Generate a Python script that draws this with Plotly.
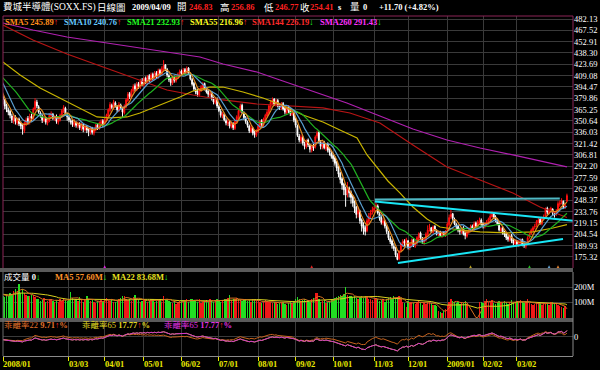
import plotly.graph_objects as go
import pandas as pd

# ---------------- data ----------------
# 20 closes before the first session (used only to seed the short averages)
prior_closes = [418, 420, 416, 422, 419, 415, 410, 412, 408, 404, 410, 414, 416, 412, 418, 420, 415, 412, 410, 408]

closes = [
    # 2008/01
    398, 392, 378, 382, 378, 370, 366, 362, 358, 352, 355, 350, 352, 347, 344, 340, 348, 352, 350, 356, 354,
    # 02
    366, 376, 370, 362, 358, 352, 355, 349, 352, 358, 360, 354, 356, 350, 353, 358, 364, 368, 360, 356,
    # 03
    352, 349, 346, 350, 345, 348, 342, 345, 340, 344, 339, 337, 342, 336, 340, 345, 342, 348, 350, 346,
    # 04
    352, 358, 365, 372, 368, 375, 370, 365, 372, 368, 362, 370, 378, 385, 382, 390, 395, 392, 398, 395, 402, 398,
    # 05
    405, 400, 408, 404, 410, 406, 412, 408, 415, 412, 418, 422, 418, 410, 404, 400, 406, 403, 408, 410, 414,
    # 06
    412, 416, 413, 418, 412, 405, 398, 392, 388, 385, 390, 394, 398, 392, 388, 385, 386, 380, 375, 378, 370,
    # 07
    364, 358, 360, 352, 348, 350, 344, 348, 342, 350, 356, 364, 370, 362, 355, 350, 345, 338, 342, 335, 333, 338,
    # 08
    344, 350, 346, 353, 358, 362, 370, 375, 378, 372, 376, 370, 368, 372, 366, 362, 368, 364, 360, 362, 352,
    # 09
    345, 332, 326, 330, 322, 318, 325, 320, 314, 318, 316, 330, 335, 324, 318, 322, 316, 320, 313, 310, 305,
    # 10
    302, 296, 290, 282, 275, 268, 262, 255, 265, 258, 252, 245, 238, 230, 235, 222, 215, 212, 208, 222, 228, 232, 236,
    # 11
    238, 242, 232, 225, 220, 222, 215, 208, 200, 195, 190, 186, 178, 172, 182, 192, 195, 193, 198,
    # 12
    188, 192, 197, 190, 194, 200, 205, 200, 195, 198, 205, 210, 212, 208, 214, 210, 205, 207, 203, 206, 204, 208,
    # 2009/01
    218, 226, 230, 225, 218, 214, 210, 208, 212, 205, 203, 208, 210, 214, 212, 218, 215, 220, 222, 217,
    # 02
    215, 218, 220, 224, 228, 230, 226, 222, 218, 210, 212, 206, 204, 200, 198, 202, 196, 193, 196,
    # 03
    192, 194, 197, 191, 190, 192, 200, 204, 210, 213, 215, 221, 223, 219, 225, 227, 237, 233, 235, 238, 232, 230,
    # 04
    234, 244, 245, 248, 239, 242.71, 254.41,
]

opens = [
    410, 397, 390, 376, 383, 377, 371, 365, 363, 357, 350, 356, 348, 353, 348, 345, 338, 347, 354, 349, 357,
    353, 366, 375, 369, 361, 357, 351, 354, 348, 351, 357, 359, 353, 357, 349, 352, 357, 363, 367, 359,
    355, 351, 350, 345, 349, 344, 347, 341, 346, 339, 343, 340, 336, 341, 335, 339, 346, 341, 347, 351,
    347, 351, 357, 364, 371, 367, 374, 369, 364, 371, 367, 361, 369, 377, 386, 381, 389, 396, 391, 399, 394, 403,
    397, 406, 399, 409, 403, 411, 405, 413, 407, 416, 411, 417, 423, 417, 409, 405, 399, 407, 402, 407, 409,
    415, 411, 417, 412, 419, 411, 404, 399, 391, 389, 384, 391, 393, 399, 391, 389, 384, 387, 379, 374, 379,
    369, 363, 357, 359, 351, 347, 349, 343, 347, 341, 349, 355, 363, 371, 361, 354, 349, 344, 337, 341, 336, 332,
    337, 343, 351, 345, 352, 357, 361, 369, 374, 379, 371, 377, 371, 367, 373, 367, 361, 369, 365, 359, 361,
    353, 344, 331, 325, 329, 321, 317, 326, 319, 313, 319, 317, 331, 336, 323, 317, 323, 315, 321, 314, 309,
    306, 303, 297, 291, 283, 276, 269, 263, 256, 264, 259, 253, 246, 239, 231, 234, 223, 216, 213, 209, 221, 229, 233,
    235, 239, 241, 231, 226, 219, 221, 214, 207, 199, 196, 189, 185, 177, 173, 183, 191, 196, 192,
    196, 187, 191, 198, 189, 193, 199, 206, 199, 194, 197, 204, 211, 213, 207, 215, 209, 204, 208, 202, 207, 203,
    209, 217, 227, 231, 224, 217, 215, 211, 207, 213, 206, 202, 207, 211, 215, 211, 219, 214, 219, 223,
    218, 214, 217, 219, 223, 227, 231, 227, 223, 219, 209, 213, 207, 205, 201, 197, 203, 197, 192,
    195, 191, 193, 198, 192, 189, 193, 201, 205, 209, 214, 216, 220, 224, 218, 226, 228, 238, 232, 236, 237, 231,
    231, 235, 243, 246, 247, 240, 246.83,
]

highs = [
    412, 400, 392, 386, 385, 379, 373, 368, 365, 360, 358, 358, 355, 355, 350, 347, 350, 355, 357, 360, 360,
    368, 380, 378, 371, 363, 359, 358, 356, 354, 360, 363, 361, 358, 359, 355, 360, 366, 371, 369, 361,
    357, 354, 352, 353, 350, 350, 349, 348, 347, 346, 345, 342, 344, 343, 342, 347, 348, 350, 353, 353,
    354, 360, 367, 375, 373, 378, 376, 371, 375, 373, 369, 372, 380, 388, 388, 392, 398, 399, 401, 401, 405, 406,
    407, 408, 410, 411, 413, 413, 415, 415, 418, 418, 421, 429, 424, 419, 411, 407, 408, 409, 410, 413, 417,
    417, 419, 419, 421, 420, 413, 406, 401, 394, 392, 393, 397, 401, 400, 394, 391, 389, 389, 382, 381, 381,
    371, 366, 362, 361, 354, 353, 351, 350, 349, 352, 358, 366, 373, 373, 363, 357, 351, 346, 345, 343, 338, 340,
    346, 352, 353, 355, 360, 365, 372, 378, 381, 380, 379, 379, 373, 375, 375, 369, 370, 371, 367, 365, 363,
    355, 346, 334, 333, 331, 324, 327, 328, 321, 320, 321, 332, 338, 337, 326, 324, 325, 322, 323, 316, 312,
    309, 305, 299, 293, 285, 278, 271, 266, 272, 266, 261, 255, 248, 241, 240, 236, 225, 220, 216, 225, 232, 236, 240,
    241, 246, 243, 233, 228, 225, 223, 216, 209, 202, 198, 193, 188, 180, 184, 194, 198, 198, 200,
    197, 194, 199, 199, 196, 202, 207, 208, 201, 200, 207, 216, 218, 214, 216, 216, 211, 209, 209, 208, 208, 210,
    220, 230, 236, 232, 226, 219, 217, 213, 214, 215, 208, 210, 213, 217, 217, 221, 221, 223, 226, 225,
    220, 220, 223, 226, 231, 234, 233, 229, 225, 220, 214, 215, 209, 207, 203, 205, 205, 199, 198,
    197, 197, 199, 199, 194, 194, 202, 206, 212, 215, 218, 223, 226, 225, 227, 230, 239, 240, 238, 240, 238, 234,
    237, 247, 248, 251, 248, 244, 256.86,
]

lows = [
    396, 388, 375, 374, 372, 366, 362, 358, 354, 348, 347, 346, 345, 344, 340, 333, 335, 344, 346, 346, 350,
    351, 364, 367, 360, 355, 348, 349, 346, 345, 349, 354, 352, 351, 347, 346, 350, 355, 361, 357, 351,
    349, 346, 343, 343, 342, 341, 339, 338, 336, 337, 335, 331, 333, 333, 332, 337, 339, 339, 345, 343,
    345, 349, 355, 362, 366, 365, 368, 362, 362, 366, 356, 359, 367, 375, 379, 379, 387, 389, 389, 392, 392, 396,
    395, 398, 397, 401, 401, 403, 403, 406, 405, 409, 409, 415, 415, 407, 401, 396, 397, 400, 400, 405, 407,
    409, 409, 410, 410, 410, 403, 396, 389, 385, 382, 382, 388, 391, 390, 386, 381, 381, 377, 372, 372, 367,
    362, 355, 354, 350, 345, 344, 341, 341, 339, 339, 347, 353, 361, 360, 352, 347, 342, 335, 335, 332, 329, 330,
    335, 340, 343, 343, 350, 355, 359, 366, 371, 370, 369, 368, 365, 365, 364, 359, 359, 361, 357, 357, 349,
    342, 330, 323, 322, 319, 314, 315, 317, 310, 310, 312, 315, 328, 322, 314, 314, 314, 312, 310, 306, 302,
    298, 293, 286, 278, 270, 262, 255, 240, 252, 252, 244, 240, 232, 225, 226, 218, 208, 204, 203, 207, 218, 225, 230,
    232, 237, 230, 222, 217, 216, 212, 205, 197, 192, 186, 183, 175, 171, 171, 181, 188, 189, 190,
    185, 184, 189, 188, 187, 191, 197, 198, 192, 191, 195, 202, 208, 206, 205, 208, 203, 202, 201, 200, 202, 201,
    207, 215, 224, 222, 216, 211, 207, 204, 205, 203, 198, 200, 205, 208, 209, 209, 212, 212, 217, 215,
    212, 212, 215, 217, 221, 226, 224, 220, 216, 208, 206, 204, 201, 197, 195, 195, 193, 190, 190,
    189, 188, 191, 189, 187, 186, 191, 199, 204, 207, 211, 214, 218, 217, 216, 224, 227, 230, 230, 233, 229, 226,
    228, 233, 240, 243, 237, 237, 246.77,
]

# daily volume, millions
volumes = [
    150, 160, 170, 140, 145, 135, 150, 140, 165, 155, 175, 185, 170, 220, 165, 190, 160, 150, 145, 140, 150,
    150, 135, 120, 125, 110, 115, 130, 105, 110, 120, 125, 110, 100, 115, 105, 120, 110, 125, 115, 110,
    120, 170, 130, 115, 125, 110, 135, 120, 105, 115, 140, 125, 110, 120, 100, 95, 110, 105, 115, 100,
    120, 130, 115, 110, 125, 105, 100, 110, 120, 130, 140, 145, 125, 115, 120, 110, 135, 150, 125, 115, 105, 110,
    120, 115, 105, 110, 125, 120, 100, 110, 115, 120, 105, 140, 125, 115, 110, 105, 95, 100, 90, 100, 110,
    115, 105, 110, 120, 100, 125, 120, 115, 110, 105, 120, 95, 100, 110, 115, 105, 125, 110, 100, 115, 120,
    110, 105, 115, 120, 125, 130, 150, 115, 120, 125, 130, 120, 115, 110, 125, 120, 110, 115, 105, 120, 115, 110,
    110, 105, 95, 100, 115, 110, 105, 100, 95, 105, 100, 90, 95, 100, 105, 90, 85, 95, 100, 90, 110,
    120, 135, 125, 110, 115, 120, 100, 115, 105, 125, 130, 165, 160, 120, 105, 110, 115, 95, 100, 110, 120,
    125, 130, 135, 140, 150, 145, 155, 200, 150, 145, 140, 135, 145, 130, 125, 135, 140, 130, 145, 140, 125, 120, 115,
    120, 130, 125, 110, 115, 120, 105, 125, 130, 135, 120, 140, 130, 135, 140, 120, 100, 95, 70,
    110, 100, 105, 95, 90, 105, 110, 100, 85, 95, 90, 100, 105, 95, 85, 80, 75, 40, 35, 30, 45, 55,
    85, 105, 120, 110, 100, 95, 105, 90, 100, 95, 110, 90, 0, 0, 0, 0, 0, 0, 105, 100,
    95, 110, 120, 105, 100, 115, 95, 90, 105, 110, 100, 95, 110, 105, 90, 100, 115, 105, 95,
    110, 100, 115, 105, 95, 100, 120, 95, 90, 85, 90, 95, 90, 95, 85, 95, 90, 95, 85, 100, 100, 95,
    90, 80, 75, 70, 65, 78, 0,
]

# long moving averages: (session index, value)
sma55_idx = [4, 13.6, 24.8, 36, 47.2, 56.7, 64, 73.5, 80.8, 92, 103.2, 110.5, 120, 127.3, 138.5, 149.7, 160.3,
             172.1, 183.3, 192.8, 202.4, 208, 212.4, 219.7, 226.4, 233.7, 241.6, 248.9, 260.1, 271.3, 286.4,
             301, 312.2, 320]
sma55_val = [426.7, 409.9, 393.2, 380.3, 367.4, 355.8, 354.5, 355.8, 360.9, 371.2, 381.6, 389.3, 394.4, 394.4,
             388.0, 380.3, 371.2, 358.3, 349.3, 339.0, 328.7, 306.8, 293.9, 273.2, 257.8, 239.7, 224.2, 213.9,
             210.0, 207.5, 206.2, 207.5, 212.6, 216.96]
sma144_idx = [4, 9.6, 20.8, 39.9, 58.4, 76.9, 95.9, 110.5, 127.3, 146.3, 164.8, 183.3, 198.4, 215.2, 233.7,
              252.8, 271.3, 289.7, 304.9, 312.2, 320]
sma144_val = [474.4, 467.9, 455.0, 437.0, 421.5, 406.0, 390.6, 384.1, 377.7, 372.5, 369.9, 367.4, 360.9, 348.0,
              319.6, 291.3, 274.5, 257.8, 239.7, 233.3, 226.19]
sma260_idx = [4, 20.8, 39.9, 58.4, 76.9, 95.9, 114.4, 127.3, 146.3, 159.2, 177.7, 196.7, 215.2, 233.7, 252.8,
              271.3, 289.7, 308.8, 320]
sma260_val = [477.0, 467.9, 458.9, 452.5, 446.0, 439.5, 433.1, 424.1, 413.8, 403.5, 389.3, 373.8, 357.0, 340.3,
              326.1, 315.8, 306.8, 297.7, 291.43]

# hand-drawn trend lines: (start index, start value, end index, end value)
trend_lines = [(212.4, 249.4, 316.0, 250.7), (212.4, 246.8, 325.6, 221.6), (225.3, 167.5, 317.8, 198.4)]
trend_colors = ["#4fb8c4", "#19e6f5", "#19e6f5"]

# small signal arrows at the bottom of the price panel
signal_idx = [61, 177, 266, 299, 310, 315]
signal_colors = ["#e020e0", "#e02020", "#b8a020", "#20c020", "#60a0d0", "#e08030"]

# axis ticks
month_idx = [0, 41, 61, 83, 104, 125, 147, 168, 189, 212, 231, 253, 273, 292]
month_labels = ["2008/01", "03/03", "04/01", "05/01", "06/02", "07/01", "08/01", "09/02", "10/01", "11/03",
                "12/01", "2009/01", "02/02", "03/02"]
price_ticks = [175.32, 189.93, 204.54, 219.15, 233.76, 248.37, 262.98, 277.59, 292.20, 306.81, 321.42, 336.03,
               350.64, 365.25, 379.86, 394.47, 409.08, 423.69, 438.30, 452.91, 467.52, 482.13]
price_tick_text = ["175.32", "189.93", "204.54", "219.15", "233.76", "248.37", "262.98", "277.59", "292.20",
                   "306.81", "321.42", "336.03", "350.64", "365.25", "379.86", "394.47", "409.08", "423.69",
                   "438.30", "452.91", "467.52", "482.13"]
vol_ticks = [100, 200]
vol_tick_text = ["100M", "200M"]

# ---------------- derived series ----------------
n = len(closes)
idx = list(range(n))
np_ = len(prior_closes)
allc = pd.Series(prior_closes + closes, dtype=float)


def sma(k):
    return allc.rolling(k, min_periods=1).mean().iloc[np_:].tolist()


sma5, sma10, sma21 = sma(5), sma(10), sma(21)
ma22, ma65 = sma(22), sma(65)
bias22 = [(c - m) / m * 100 for c, m in zip(closes, ma22)]
bias65 = [(c - m) / m * 100 for c, m in zip(closes, ma65)]
vs = pd.Series(volumes, dtype=float)
vma5 = vs.rolling(5, min_periods=1).mean().tolist()
vma22 = vs.rolling(22, min_periods=1).mean().tolist()
vcolors = ["#f01818" if c >= o else "#22dd22" for o, c in zip(opens, closes)]

# ---------------- figure ----------------
X_LO, X_HI = 4.03, 323.4
SERIF = "Liberation Serif, Noto Sans CJK TC, serif"
GRID = "#3a3a3a"

fig = go.Figure()
fig.add_trace(go.Candlestick(
    x=idx, open=opens, high=highs, low=lows, close=closes,
    increasing=dict(line=dict(color="#ff1010", width=1), fillcolor="#ff1010"),
    decreasing=dict(line=dict(color="#ffffff", width=1), fillcolor="#ffffff"),
    whiskerwidth=0, xaxis="x", yaxis="y", hoverinfo="skip"))

line_specs = [
    (sma260_idx, sma260_val, "#b020b0"),
    (sma144_idx, sma144_val, "#b81414"),
    (sma55_idx, sma55_val, "#c8b400"),
    (idx, sma21, "#20b020"),
    (idx, sma10, "#5aa0d0"),
    (idx, sma5, "#e08a20"),
]
for xs, ys, col in line_specs:
    fig.add_trace(go.Scatter(x=xs, y=ys, mode="lines", line=dict(color=col, width=1.2),
                             xaxis="x", yaxis="y", hoverinfo="skip"))

for (x0, y0, x1, y1), col in zip(trend_lines, trend_colors):
    fig.add_trace(go.Scatter(x=[x0, x1], y=[y0, y1], mode="lines", line=dict(color=col, width=2),
                             xaxis="x", yaxis="y", hoverinfo="skip"))

fig.add_trace(go.Scatter(x=signal_idx, y=[164.5] * len(signal_idx), mode="markers",
                         marker=dict(symbol="arrow-up", size=6, color=signal_colors, line=dict(width=0)),
                         xaxis="x", yaxis="y", hoverinfo="skip"))

# volume panel
fig.add_trace(go.Bar(x=idx, y=volumes, marker=dict(color=vcolors, line=dict(width=0)), width=0.75,
                     xaxis="x2", yaxis="y2", hoverinfo="skip"))
fig.add_trace(go.Scatter(x=idx, y=vma22, mode="lines", line=dict(color="#d8d020", width=1),
                         xaxis="x2", yaxis="y2", hoverinfo="skip"))
fig.add_trace(go.Scatter(x=idx, y=vma5, mode="lines", line=dict(color="#d87020", width=1),
                         xaxis="x2", yaxis="y2", hoverinfo="skip"))

# oscillator panel
fig.add_trace(go.Scatter(x=idx, y=bias22, mode="lines", line=dict(color="#c8641e", width=1),
                         xaxis="x3", yaxis="y3", hoverinfo="skip"))
fig.add_trace(go.Scatter(x=idx, y=bias65, mode="lines", line=dict(color="#d8d020", width=1),
                         xaxis="x3", yaxis="y3", hoverinfo="skip"))
fig.add_trace(go.Scatter(x=idx, y=bias65, mode="lines", line=dict(color="#d030d0", width=1),
                         xaxis="x3", yaxis="y3", hoverinfo="skip"))


def pxx(px):
    return (px - 3) / 570.0


def pxy(py):
    return (356 - py) / 340.0


grid_vals = [max(t, X_LO) for t in month_idx]
xcommon = dict(range=[X_LO, X_HI], showgrid=True, gridcolor=GRID, gridwidth=1, tickvals=grid_vals,
               showticklabels=False, zeroline=False, fixedrange=True)
ytick_font = dict(family=SERIF, size=8.5, color="#ffffff")

fig.update_layout(
    width=600, height=370, paper_bgcolor="#000000", plot_bgcolor="#000000",
    margin=dict(l=3, r=27, t=16, b=14, autoexpand=False), showlegend=False, bargap=0,
    xaxis=dict(**xcommon, anchor="y", rangeslider=dict(visible=False), ticks=""),
    xaxis2=dict(**xcommon, anchor="y2", matches="x", ticks=""),
    xaxis3=dict(**xcommon, anchor="y3", matches="x", ticks="outside", ticklen=4, tickcolor="#e8e800",
                showline=True, linecolor="#8a8a8a", linewidth=1),
    yaxis=dict(domain=[pxy(268), 1.0], range=[161.0, 486.0], side="right", tickvals=price_ticks,
               ticktext=price_tick_text, showgrid=True, gridcolor=GRID, zeroline=False, ticks="",
               tickfont=ytick_font, fixedrange=True, automargin=False),
    yaxis2=dict(domain=[pxy(318), pxy(272)], range=[-3, 300], side="right", tickvals=vol_ticks,
                ticktext=vol_tick_text, showgrid=True, gridcolor=GRID, zeroline=False, ticks="",
                tickfont=ytick_font, fixedrange=True, automargin=False),
    yaxis3=dict(domain=[0, pxy(322)], range=[-51.4, 40.5], side="right", tickvals=[0], ticktext=["0"],
                showgrid=True, gridcolor=GRID, zeroline=False, ticks="",
                tickfont=ytick_font, fixedrange=True, automargin=False),
)

shapes = [
    # panel separators
    dict(type="rect", xref="paper", yref="paper", x0=pxx(0), x1=1.0, y0=pxy(272), y1=pxy(268),
         fillcolor="#5a5a5a", line=dict(width=0), layer="above"),
    dict(type="rect", xref="paper", yref="paper", x0=pxx(0), x1=1.0, y0=pxy(322), y1=pxy(318),
         fillcolor="#5a5a5a", line=dict(width=0), layer="above"),
    # price panel frame
    dict(type="line", xref="paper", yref="paper", x0=0, x1=1, y0=1, y1=1, line=dict(color="#8c2456", width=1)),
    dict(type="line", xref="paper", yref="paper", x0=0, x1=0, y0=pxy(268), y1=1, line=dict(color="#8c2456", width=1)),
    dict(type="line", xref="paper", yref="paper", x0=1, x1=1, y0=pxy(268), y1=1, line=dict(color="#8c2456", width=1)),
    # lower panels frame
    dict(type="line", xref="paper", yref="paper", x0=1, x1=1, y0=0, y1=pxy(272), line=dict(color="#8a8a8a", width=1)),
    dict(type="line", xref="paper", yref="paper", x0=0, x1=0, y0=0, y1=pxy(272), line=dict(color="#6a6a6a", width=1)),
]
fig.update_layout(shapes=shapes)

UP, DN = "#ff2020", "#20ff20"


def span(t, c):
    return '<span style="color:%s">%s</span>' % (c, t)


anns = []


def add(px, py, html, size=8.5):
    anns.append(dict(x=pxx(px), y=pxy(py), xref="paper", yref="paper", text=html, showarrow=False,
                     xanchor="left", yanchor="middle", xshift=0,
                     font=dict(family=SERIF, size=size, color="#ffffff")))


# title row
add(1, 7, "費城半導體(SOXX.FS)", 9.5)
add(95, 7, "日線圖", 9.5)
add(130, 7, "<b>2009/04/09</b>", 8.5)
add(175, 7, "開", 9.5)
add(187, 7, "<b>" + span("246.83", "#ff2020") + "</b>", 8.5)
add(218, 7, "高", 9.5)
add(229, 7, "<b>" + span("256.86", "#ff2020") + "</b>", 8.5)
add(262, 7, "低", 9.5)
add(273, 7, "<b>" + span("246.77", "#ff2020") + "</b>", 8.5)
add(298, 7, "收", 9.5)
add(308, 7, "<b>" + span("254.41", "#ff2020") + "</b>", 8.5)
add(336, 7, "<b>s</b>", 8.5)
add(348, 7, "量", 9.5)
add(361, 7, "<b>0</b>", 8.5)
add(377, 7, "<b>+11.70 (+4.82%)</b>", 8.5)

# moving-average legend
legend_items = [
    (3, "SMA5 245.89", "#ff8c1a", "↑", UP),
    (62, "SMA10 240.76", "#66c8ff", "↑", UP),
    (125, "SMA21 232.93", "#22ff22", "↑", UP),
    (188, "SMA55 216.96", "#ffff22", "↑", UP),
    (250, "SMA144 226.19", "#ff2a2a", "↓", DN),
    (318, "SMA260 291.43", "#ff30ff", "↓", DN),
]
for px, t, c, a, ac in legend_items:
    add(px, 22, "<b>" + span(t, c) + span(a, ac) + "</b>", 8.5)

# volume legend
add(2, 277, "成交量 " + "<b>0" + span("↓", DN) + "</b>", 8.5)
add(53, 277, "<b>" + span("MA5 57.60M", "#ff9428") + span("↓", DN) + "</b>", 8.5)
add(110, 277, "<b>" + span("MA22 83.68M", "#e8e020") + span("↓", DN) + "</b>", 8.5)

# oscillator legend
add(2, 325, span("乖離率22 ", "#e0702a") + "<b>" + span("9.71", "#e0702a") + span("↑", UP)
    + span("%", "#e0702a") + "</b>", 8.5)
add(80, 325, span("乖離率65 ", "#e0d820") + "<b>" + span("17.77", "#e0d820") + span("↑", UP)
    + span("%", "#e0d820") + "</b>", 8.5)
add(162, 325, span("乖離率65 ", "#e030e0") + "<b>" + span("17.77", "#e030e0") + span("↑", UP)
    + span("%", "#e030e0") + "</b>", 8.5)

# month labels under the chart
for t, lab in zip(month_idx, month_labels):
    xpos = max(t, X_LO)
    anns.append(dict(x=xpos, y=pxy(364), xref="x3", yref="paper", text="<b>" + lab + "</b>", showarrow=False,
                     xanchor="left", yanchor="middle", xshift=-2,
                     font=dict(family=SERIF, size=8.5, color="#e8e800")))

fig.update_layout(annotations=anns)
fig.write_html("out.html", config={"displayModeBar": False, "staticPlot": True},
               post_script="document.body.style.margin='0';document.body.style.padding='0';")
